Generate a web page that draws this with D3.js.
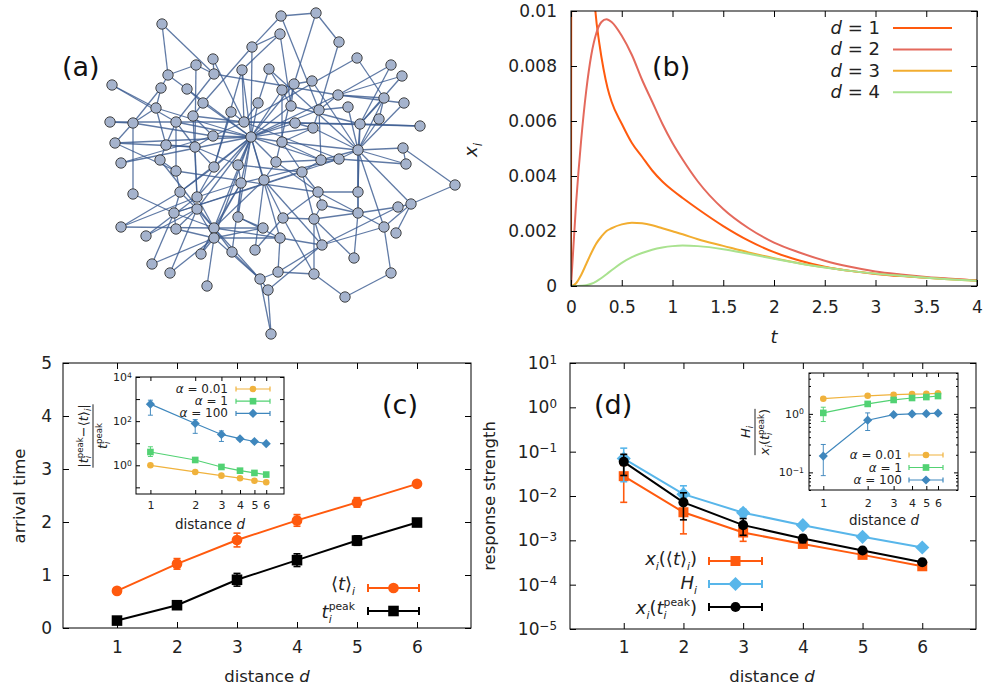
<!DOCTYPE html>
<html><head><meta charset="utf-8">
<script src="https://cdn.jsdelivr.net/npm/d3@7"></script>
<style>body{margin:0;background:#fff} svg{display:block} text{font-family:"DejaVu Sans",sans-serif;white-space:pre}</style>
</head><body><svg id="c" width="984" height="691"></svg>
<script>
// ---------------- DATA ----------------
// (a) network layout (layout units) and edges (1-based node ids)
const nodeX = [162,281,316,280,339,252,357,391,402,196,213,168,214,242,269,312,294,112,161,187,282,338,384,404,203,258,291,319,348,156,231,193,379,110,133,176,244,295,313,360,420,213,251,282,115,166,195,358,403,121,160,214,238,276,321,339,406,176,302,264,241,455,133,180,197,318,358,411,398,322,197,174,358,238,283,314,121,176,214,263,384,396,146,214,280,322,232,255,201,354,152,170,278,260,314,391,207,268,345,271];
const nodeY = [24,16,13,34,42,47,58,65,76,65,59,75,74,70,69,81,84,85,88,89,90,95,98,103,103,103,106,110,107,108,112,116,119,122,123,122,122,123,128,124,126,136,137,142,143,145,147,150,148,163,160,167,165,162,160,159,164,171,172,180,183,185,194,192,197,192,192,204,207,205,209,213,213,217,218,219,227,229,228,228,227,233,236,238,238,245,252,250,254,258,264,273,272,279,274,273,286,290,297,334];
const edgeList = [
[1,12],[1,13],[2,3],[2,6],[2,28],[3,5],[3,17],[4,6],[4,27],[4,14],[5,28],[6,43],[6,25],[7,23],[7,37],[8,22],[8,40],[9,22],[9,40],
[10,12],[10,13],[10,47],[11,13],[11,37],[12,19],[12,20],[13,22],[13,36],[14,37],[14,52],[15,26],[15,21],[15,48],[16,17],[16,48],[17,27],[17,54],
[18,30],[18,36],[19,35],[19,30],[20,43],[20,25],[21,44],[21,27],[22,23],[22,24],[22,28],[22,43],[23,33],[23,48],[23,40],[24,48],[25,32],[25,43],
[26,43],[26,37],[27,43],[27,40],[28,29],[28,39],[28,55],[29,48],[30,35],[30,46],[30,43],[31,37],[31,52],[32,37],[32,42],[32,65],[33,48],
[34,35],[34,37],[35,45],[35,63],[35,42],[36,46],[36,43],[36,47],[36,58],[37,42],[37,38],[37,40],[37,56],[38,39],[38,43],[39,48],[39,44],
[40,41],[40,48],[40,67],[41,38],[42,47],[42,43],[43,44],[43,53],[43,52],[43,54],[43,60],[43,61],[43,64],[43,71],[43,79],[43,84],[43,74],
[43,65],[43,55],[43,85],[43,28],[43,39],[43,21],[43,17],[43,14],[44,59],[44,55],[44,48],[45,47],[45,43],[45,58],[46,47],[46,51],[47,52],
[47,65],[47,53],[48,49],[48,57],[48,56],[48,55],[48,67],[48,73],[48,68],[48,81],[49,62],[50,43],[50,42],[51,58],[51,79],[52,65],[52,64],
[53,61],[53,59],[54,60],[54,66],[54,55],[55,56],[55,59],[56,57],[56,61],[56,72],[58,64],[58,66],[59,72],[59,66],[59,76],[60,75],[60,86],[61,74],
[61,87],[61,65],[61,89],[62,68],[63,72],[64,72],[64,77],[64,71],[65,83],[65,79],[65,77],[66,67],[66,70],[66,73],[66,75],[67,73],[68,69],[68,82],
[68,81],[69,73],[69,86],[70,76],[70,73],[71,78],[71,79],[71,84],[71,83],[72,78],[72,91],[72,79],[73,76],[73,81],[74,85],[74,80],[75,76],[75,95],
[76,86],[76,90],[76,95],[77,79],[78,84],[79,80],[79,85],[79,87],[79,94],[79,60],[79,61],[80,84],[81,96],[81,86],[84,85],[84,89],[84,92],[84,97],[84,94],
[85,93],[85,86],[86,93],[86,98],[87,94],[88,75],[88,60],[89,79],[91,84],[93,95],[93,94],[94,98],[94,100],[96,99],[98,100],[99,95],[92,71],[90,73],[57,49]
];

// (b) response curves x_i(t)
const d1T = [0,0.004,0.01,0.03,0.06,0.1,0.15,0.2,0.24,0.28,0.32,0.36,0.4,0.5,0.6,0.7,0.8,0.9,1.0,1.1,1.25,1.5,1.75,2.0,2.25,2.5,2.75,3.0,3.25,3.5,3.75,4.0];
const d1X = [0,0.02,0.05,0.04,0.03,0.022,0.016,0.0123,0.0100,0.0088,0.0079,0.0072,0.0067,0.0059,0.0052,0.0047,0.0042,0.0038,0.00348,0.0032,0.0028,0.00218,0.00165,0.00123,0.00093,0.0007,0.00055,0.00044,0.00036,0.0003,0.00025,0.0002];
const tGrid = [0,0.05,0.1,0.15,0.2,0.25,0.3,0.35,0.4,0.5,0.6,0.7,0.8,0.9,1.0,1.1,1.25,1.5,1.75,2.0,2.25,2.5,2.75,3.0,3.25,3.5,3.75,4.0];
const d2X = [0,0.0030,0.0053,0.0071,0.0084,0.0092,0.0096,0.0097,0.0096,0.0091,0.0084,0.0075,0.0067,0.0059,0.0052,0.0046,0.0038,0.0028,0.0021,0.00158,0.00122,0.00092,0.0007,0.00053,0.00042,0.00033,0.00026,0.0002];
const d3X = [0,0.0001,0.0004,0.0008,0.0012,0.00155,0.0018,0.002,0.0021,0.00224,0.0023,0.00228,0.00221,0.0021,0.00199,0.00188,0.0017,0.00146,0.00122,0.00101,0.00083,0.00068,0.00055,0.00045,0.00037,0.0003,0.00024,0.00019];
const d4X = [0,0,0.00001,0.00003,0.00008,0.00017,0.00029,0.00043,0.00057,0.00084,0.00105,0.0012,0.00132,0.0014,0.00145,0.00147,0.00145,0.00134,0.00117,0.00099,0.00082,0.00067,0.00055,0.00045,0.00037,0.0003,0.00024,0.00019];
const bLabels = ['1','2','3','4'];
const bTicksX = [0,0.5,1,1.5,2,2.5,3,3.5,4];
const bTicksY = [0,0.002,0.004,0.006,0.008,0.01];

// (c) arrival times
const distances = [1,2,3,4,5,6];
const meanT = [0.70,1.21,1.66,2.03,2.37,2.72];
const meanTErr = [0.04,0.10,0.13,0.11,0.09,0.04];
const peakT = [0.14,0.43,0.91,1.28,1.65,1.99];
const peakTErr = [0.04,0.06,0.12,0.12,0.09,0.04];
const cTicksY = [0,1,2,3,4,5];
// (c) inset: relative difference
const alphaLabels = ['0.01','1','100'];
const relA001 = [1.0,0.50,0.34,0.26,0.20,0.17];
const relA1 = [4.0,1.74,0.84,0.57,0.45,0.38];
const relA1Lo = [2.5,1.6,0.78,0.54,0.43,0.36];
const relA1Hi = [6.9,1.9,0.90,0.60,0.47,0.40];
const relA100 = [590,78,25,16,12,9.5];
const relA100Lo = [186,28,12,14,11,9];
const relA100Hi = [890,117,36,18,13,10];
const ciTicksY = [0.1,1,10,100,1000,10000];

// (d) response strength
const xMean = [0.028,0.0043,0.0015,0.00083,0.00047,0.00026];
const xMeanLo = [0.0072,0.0014,0.00095,0.00073,0.00043,0.00024];
const xMeanHi = [0.049,0.0072,0.0021,0.00093,0.00051,0.00028];
const hStr = [0.07,0.011,0.0042,0.0022,0.0012,0.00069];
const hLo = [0.021,0.0068,0.0034,0.002,0.0011,0.00065];
const hHi = [0.12,0.017,0.005,0.0024,0.0013,0.00073];
const xPeak = [0.059,0.0072,0.0022,0.0011,0.00059,0.00032];
const xPeakLo = [0.029,0.0029,0.0013,0.00088,0.00054,0.0003];
const xPeakHi = [0.087,0.0118,0.0031,0.0013,0.00064,0.00034];
const dTicksY = [1e-5,1e-4,1e-3,1e-2,1e-1,1,10];
// (d) inset: ratio H_i / x_i(t_peak)
const ratA001 = [1.82,2.04,2.13,2.18,2.2,2.24];
const ratA1 = [1.04,1.48,1.73,1.87,1.94,2.02];
const ratA1Lo = [0.74,1.42,1.68,1.83,1.9,1.98];
const ratA1Hi = [1.3,1.54,1.78,1.91,1.98,2.06];
const ratA100 = [0.19,0.78,0.97,1.0,1.01,1.03];
const ratA100Lo = [0.088,0.52,0.93,0.97,0.98,1.0];
const ratA100Hi = [0.30,1.04,1.01,1.03,1.04,1.06];
const diTicksY = [0.1,1];
const diMinor = [0.05,0.06,0.07,0.08,0.09,0.2,0.3,0.4,0.5,0.6,0.7,0.8,0.9,2,3,4,5];

// ---------------- STYLE ----------------
const C = {d1:'#ff5a0e', d2:'#e4695c', d3:'#f2ad30', d4:'#a9e28f',
  black:'#000', blueH:'#58b6ea', aY:'#f0b23c', aG:'#52d273', aB:'#3f87bd', text:'#222'};
const FONT = '"DejaVu Sans", sans-serif';

const svg = d3.select('#c');
svg.append('rect').attr('width',984).attr('height',691).attr('fill','#fff');

// ---------------- HELPERS ----------------
function mtext(parent, tokens, o){
  const fs = o.fs, g = parent.append('g');
  const ss = o.ss || 0.66;
  let cx = 0;
  for (const tk of tokens){
    let w = 0, w2 = 0;
    if (tk.s){ const t = g.append('text').attr('x',cx).attr('y',0).attr('font-size',fs)
        .attr('font-style',tk.it?'italic':'normal').text(tk.s.replace(/ /g,'\u00A0')); w = t.node().getComputedTextLength(); }
    if (tk.sup){ const t = g.append('text').attr('x',cx+w).attr('y',-fs*0.42).attr('font-size',fs*ss).text(tk.sup);
        w2 = Math.max(w2,t.node().getComputedTextLength()); }
    if (tk.sub){ const t = g.append('text').attr('x',cx+w).attr('y',fs*0.26).attr('font-size',fs*ss)
        .attr('font-style',tk.subIt?'italic':'normal').text(tk.sub); w2 = Math.max(w2,t.node().getComputedTextLength()); }
    cx += w + w2;
  }
  const dx = o.anchor==='end' ? -cx : o.anchor==='middle' ? -cx/2 : 0;
  g.attr('transform',`translate(${o.x},${o.y})`+(o.rot?` rotate(${o.rot})`:'')+` translate(${dx},0)`);
  g.selectAll('text').attr('fill',o.fill||C.text).attr('font-family',FONT);
  return cx;
}
function styleAxis(a, fs){
  a.select('.domain').remove();
  a.attr('font-size',fs).attr('font-family',FONT).attr('color','#000');
  a.selectAll('text').attr('fill',C.text);
}
function supLabels(a, fs, show){
  a.selectAll('.tick text').each(function(d){
    const t = d3.select(this); t.text('');
    const e = Math.round(Math.log10(d));
    if (show && !show(e)) return;
    t.append('tspan').text('10');
    t.append('tspan').attr('dy','-0.45em').attr('font-size',fs*0.7).text(e<0?'\u2212'+(-e):String(e));
  });
}
function frame(g, xs, ys, o){
  const [x0,x1] = xs.range(), [yb,yt] = ys.range(), L = o.L;
  const bx = g.append('g').attr('transform',`translate(0,${yb})`)
    .call(d3.axisBottom(xs).tickValues(o.xv).tickSizeInner(-L).tickSizeOuter(0).tickPadding(o.xpad).tickFormat(o.xf||d3.format('~g')));
  const tx = g.append('g').attr('transform',`translate(0,${yt})`)
    .call(d3.axisTop(xs).tickValues(o.xv).tickSizeInner(-L).tickSizeOuter(0).tickFormat(''));
  const ly = g.append('g').attr('transform',`translate(${x0},0)`)
    .call(d3.axisLeft(ys).tickValues(o.yv).tickSizeInner(-L).tickSizeOuter(0).tickPadding(o.ypad).tickFormat(o.yf||d3.format('~g')));
  const ry = g.append('g').attr('transform',`translate(${x1},0)`)
    .call(d3.axisRight(ys).tickValues(o.yv).tickSizeInner(-L).tickSizeOuter(0).tickFormat(''));
  [bx,tx,ly,ry].forEach(a=>styleAxis(a,o.fs));
  if (o.minor){
    [[d3.axisLeft,x0],[d3.axisRight,x1]].forEach(([ax,xx])=>{
      const m = g.append('g').attr('transform',`translate(${xx},0)`).call(ax(ys).tickValues(o.minor).tickSizeInner(-o.L/2).tickSizeOuter(0).tickFormat(''));
      styleAxis(m,o.fs);
    });
  }
  g.append('rect').attr('x',x0).attr('y',yt).attr('width',x1-x0).attr('height',yb-yt)
    .attr('fill','none').attr('stroke','#000').attr('stroke-width',1);
  return {bx, ly};
}
function symbol(g, type, x, y, size, color){
  const t = type==='circle'?d3.symbolCircle:d3.symbolSquare;
  g.append('path').attr('d',d3.symbol().type(t).size(size)())
    .attr('transform',`translate(${x},${y})`+(type==='diamond'?' rotate(45)':''))
    .attr('fill',color);
}
function series(g, xs, ys, xv, yv, lo, hi, color, o){
  const line = d3.line().x((d,i)=>xs(xv[i])).y((d,i)=>ys(yv[i]));
  g.append('path').attr('d',line(xv)).attr('fill','none').attr('stroke',color).attr('stroke-width',o.lw);
  xv.forEach((x,i)=>{
    if (lo){
      const px = xs(x), a = ys(lo[i]), b = ys(hi[i]);
      g.append('line').attr('x1',px).attr('x2',px).attr('y1',a).attr('y2',b).attr('stroke',color).attr('stroke-width',o.elw||o.lw*0.8);
      [a,b].forEach(yy=>g.append('line').attr('x1',px-o.cap).attr('x2',px+o.cap).attr('y1',yy).attr('y2',yy).attr('stroke',color).attr('stroke-width',o.elw||o.lw*0.8));
    }
  });
  xv.forEach((x,i)=>symbol(g,o.sym,xs(x),ys(yv[i]),o.size,color));
}
function legendKey(g, x1, x2, y, color, o){
  g.append('line').attr('x1',x1).attr('x2',x2).attr('y1',y).attr('y2',y).attr('stroke',color).attr('stroke-width',o.lw);
  [x1,x2].forEach(xx=>g.append('line').attr('x1',xx).attr('x2',xx).attr('y1',y-o.cap).attr('y2',y+o.cap).attr('stroke',color).attr('stroke-width',o.lw));
  if (o.sym) symbol(g,o.sym,(x1+x2)/2,y,o.size,color);
}
function panelLabel(txt, x, y){
  svg.append('text').attr('x',x).attr('y',y).attr('font-family','"Liberation Sans", Arial, sans-serif')
    .attr('font-size',27).attr('fill','#111').text(txt);
}

// ---------------- (a) NETWORK ----------------
{
  const g = svg.append('g');
  const xN = d3.scaleLinear().domain([100,460]).range([100,460]);
  const yN = d3.scaleLinear().domain([0,340]).range([0,340]);
  g.selectAll('line.e').data(edgeList).join('line')
    .attr('x1',d=>xN(nodeX[d[0]-1])).attr('y1',d=>yN(nodeY[d[0]-1]))
    .attr('x2',d=>xN(nodeX[d[1]-1])).attr('y2',d=>yN(nodeY[d[1]-1]))
    .attr('stroke','#3d5d91').attr('stroke-width',1.3).attr('stroke-opacity',0.82);
  g.selectAll('circle').data(nodeX).join('circle')
    .attr('cx',(d,i)=>xN(nodeX[i])).attr('cy',(d,i)=>yN(nodeY[i])).attr('r',5.2)
    .attr('fill','#a5b3cd').attr('stroke','#333').attr('stroke-width',0.9);
  panelLabel('(a)', 62, 76);
}

// ---------------- (b) CURVES ----------------
{
  const g = svg.append('g');
  const xB = d3.scaleLinear().domain([0,4]).range([571,977]);
  const yB = d3.scaleLinear().domain([0,0.01]).range([286,11]);
  svg.append('clipPath').attr('id','clipB').append('rect').attr('x',571).attr('y',11).attr('width',406).attr('height',275);
  const cg = g.append('g').attr('clip-path','url(#clipB)');
  const line = d3.line().curve(d3.curveMonotoneX);
  const sets = [[d1T,d1X,C.d1],[tGrid,d2X,C.d2],[tGrid,d3X,C.d3],[tGrid,d4X,C.d4]];
  sets.forEach(([ts,vs,col])=>{
    cg.append('path').attr('d',line(ts.map((t,i)=>[xB(t),yB(vs[i])])))
      .attr('fill','none').attr('stroke',col).attr('stroke-width',2);
  });
  frame(g, xB, yB, {xv:bTicksX, yv:bTicksY, L:6, fs:17, xpad:15, ypad:14});
  // legend
  bLabels.forEach((lab,i)=>{
    const y = 28 + i*21.4;
    mtext(g,[{s:'d',it:1},{s:' = '+lab}],{x:880,y:y+6,fs:18,anchor:'end'});
    g.append('line').attr('x1',893).attr('x2',952).attr('y1',y).attr('y2',y).attr('stroke',sets[i][2]).attr('stroke-width',2);
  });
  mtext(g,[{s:'t',it:1}],{x:774,y:343,fs:18,anchor:'middle'});
  mtext(g,[{s:'x',it:1,sub:'i',subIt:1}],{x:477,y:150,fs:18,anchor:'middle',rot:-90});
  panelLabel('(b)', 652, 76);
}

// ---------------- (c) ARRIVAL TIME ----------------
{
  const g = svg.append('g');
  const xC = d3.scaleLinear().domain([0.1,6.9]).range([63,471]);
  const yC = d3.scaleLinear().domain([0,5]).range([628,363]);
  frame(g, xC, yC, {xv:distances, yv:cTicksY, L:6, fs:17, xpad:13, ypad:11});
  series(g, xC, yC, distances, meanT, meanT.map((v,i)=>v-meanTErr[i]), meanT.map((v,i)=>v+meanTErr[i]), C.d1, {lw:2, cap:3.5, sym:'circle', size:90});
  series(g, xC, yC, distances, peakT, peakT.map((v,i)=>v-peakTErr[i]), peakT.map((v,i)=>v+peakTErr[i]), C.black, {lw:2, cap:3.5, sym:'square', size:112});
  // legend
  mtext(g,[{s:'\u27E8'},{s:'t',it:1},{s:'\u27E9',sub:'i',subIt:1}],{x:355,y:590,fs:18,anchor:'end',ss:0.6});
  legendKey(g,368,419,588,C.d1,{lw:2,cap:4,sym:'circle',size:90});
  mtext(g,[{s:'t',it:1,sup:'peak',sub:'i',subIt:1}],{x:355,y:618,fs:18,anchor:'end',ss:0.6});
  legendKey(g,368,419,611,C.black,{lw:2,cap:4,sym:'square',size:112});
  mtext(g,[{s:'distance '},{s:'d',it:1}],{x:267,y:682,fs:16.5,anchor:'middle'});
  mtext(g,[{s:'arrival time'}],{x:25,y:496,fs:16.5,anchor:'middle',rot:-90});
  panelLabel('(c)', 382, 414);

  // inset
  const ig = svg.append('g');
  const xCi = d3.scaleLog().domain([0.8,7.9]).range([136,284]);
  const yCi = d3.scaleLog().domain([0.05,1e4]).range([494,377]);
  ig.append('rect').attr('x',136).attr('y',377).attr('width',148).attr('height',117).attr('fill','#fff');
  const ax = frame(ig, xCi, yCi, {xv:distances, yv:ciTicksY, L:4, fs:11, xpad:7, ypad:4, yf:()=> ''});
  supLabels(ax.ly, 11, e=>e%2===0);
  series(ig, xCi, yCi, distances, relA001, null, null, C.aY, {lw:1.2, sym:'circle', size:34});
  series(ig, xCi, yCi, distances, relA1, relA1Lo, relA1Hi, C.aG, {lw:1.2, cap:2.5, sym:'square', size:44});
  series(ig, xCi, yCi, distances, relA100, relA100Lo, relA100Hi, C.aB, {lw:1.2, cap:2.5, sym:'diamond', size:42});
  const cols = [C.aY,C.aG,C.aB], syms=['circle','square','diamond'], sizes=[34,44,42];
  alphaLabels.forEach((lab,i)=>{
    const y = 389 + i*12.2;
    mtext(ig,[{s:'\u03B1',it:1},{s:' = '+lab}],{x:228,y:y+4,fs:12,anchor:'end'});
    legendKey(ig,236,270,y,cols[i],{lw:1.2,cap:2.5,sym:syms[i],size:sizes[i]});
  });
  mtext(ig,[{s:'distance '},{s:'d',it:1}],{x:210,y:529,fs:13.5,anchor:'middle'});
  // fraction label
  const fg = ig.append('g').attr('transform','translate(93,436) rotate(-90)');
  const wn = mtext(fg,[{s:'|'},{s:'t',it:1,sup:'peak',sub:'i',subIt:1},{s:'\u2212\u27E8'},{s:'t',it:1},{s:'\u27E9',sub:'i',subIt:1},{s:'|'}],{x:0,y:-5,fs:13,anchor:'middle'});
  fg.append('line').attr('x1',-wn/2).attr('x2',wn/2).attr('y1',0).attr('y2',0).attr('stroke','#222').attr('stroke-width',1);
  mtext(fg,[{s:'t',it:1,sup:'peak',sub:'i',subIt:1}],{x:0,y:14,fs:13,anchor:'middle'});
}

// ---------------- (d) RESPONSE STRENGTH ----------------
{
  const g = svg.append('g');
  const xD = d3.scaleLinear().domain([0.1,6.9]).range([570,976]);
  const yD = d3.scaleLog().domain([1e-5,10]).range([629,363]);
  const ax = frame(g, xD, yD, {xv:distances, yv:dTicksY, L:6, fs:17, xpad:12, ypad:13, yf:()=> ''});
  supLabels(ax.ly, 17);
  series(g, xD, yD, distances, xMean, xMeanLo, xMeanHi, C.d1, {lw:2, cap:3.5, sym:'square', size:100});
  series(g, xD, yD, distances, hStr, hLo, hHi, C.blueH, {lw:2, cap:3.5, sym:'diamond', size:100});
  series(g, xD, yD, distances, xPeak, xPeakLo, xPeakHi, C.black, {lw:2, cap:3.5, sym:'circle', size:80});
  // legend
  mtext(g,[{s:'x',it:1,sub:'i',subIt:1},{s:'(\u27E8'},{s:'t',it:1},{s:'\u27E9',sub:'i',subIt:1},{s:')'}],{x:697,y:565,fs:18,anchor:'end',ss:0.6});
  legendKey(g,709,762,561,C.d1,{lw:2,cap:4,sym:'square',size:100});
  mtext(g,[{s:'H',it:1,sub:'i',subIt:1}],{x:697,y:589,fs:18,anchor:'end',ss:0.6});
  legendKey(g,709,762,584,C.blueH,{lw:2,cap:4,sym:'diamond',size:100});
  mtext(g,[{s:'x',it:1,sub:'i',subIt:1},{s:'('},{s:'t',it:1,sup:'peak',sub:'i',subIt:1},{s:')'}],{x:697,y:614,fs:18,anchor:'end',ss:0.6});
  legendKey(g,709,762,607,C.black,{lw:2,cap:4,sym:'circle',size:80});
  mtext(g,[{s:'distance '},{s:'d',it:1}],{x:772,y:682,fs:16.5,anchor:'middle'});
  mtext(g,[{s:'response strength'}],{x:495,y:496,fs:16.5,anchor:'middle',rot:-90});
  panelLabel('(d)', 594, 414);

  // inset
  const ig = svg.append('g');
  const xDi = d3.scaleLog().domain([0.8,8.2]).range([809,958]);
  const yDi = d3.scaleLog().domain([0.05,5]).range([490,373]);
  ig.append('rect').attr('x',809).attr('y',373).attr('width',149).attr('height',117).attr('fill','#fff');
  const iax = frame(ig, xDi, yDi, {xv:distances, yv:diTicksY, L:4, fs:11, xpad:9, ypad:5, yf:()=> '', minor:diMinor});
  supLabels(iax.ly, 11);
  series(ig, xDi, yDi, distances, ratA001, null, null, C.aY, {lw:1.2, sym:'circle', size:34});
  series(ig, xDi, yDi, distances, ratA1, ratA1Lo, ratA1Hi, C.aG, {lw:1.2, cap:2.5, sym:'square', size:44});
  series(ig, xDi, yDi, distances, ratA100, ratA100Lo, ratA100Hi, C.aB, {lw:1.2, cap:2.5, sym:'diamond', size:42});
  const cols = [C.aY,C.aG,C.aB], syms=['circle','square','diamond'], sizes=[34,44,42];
  alphaLabels.forEach((lab,i)=>{
    const y = 455 + i*12.5;
    mtext(ig,[{s:'\u03B1',it:1},{s:' = '+lab}],{x:902,y:y+4,fs:12,anchor:'end'});
    legendKey(ig,909,943,y,cols[i],{lw:1.2,cap:2.5,sym:syms[i],size:sizes[i]});
  });
  mtext(ig,[{s:'distance '},{s:'d',it:1}],{x:884,y:525,fs:13.5,anchor:'middle'});
  const fg = ig.append('g').attr('transform','translate(755,432) rotate(-90)');
  mtext(fg,[{s:'H',it:1,sub:'i',subIt:1}],{x:0,y:-5,fs:13,anchor:'middle'});
  const wd = mtext(fg,[{s:'x',it:1,sub:'i',subIt:1},{s:'('},{s:'t',it:1,sup:'peak',sub:'i',subIt:1},{s:')'}],{x:0,y:14,fs:13,anchor:'middle'});
  fg.append('line').attr('x1',-wd/2).attr('x2',wd/2).attr('y1',0).attr('y2',0).attr('stroke','#222').attr('stroke-width',1);
}
</script></body></html>
